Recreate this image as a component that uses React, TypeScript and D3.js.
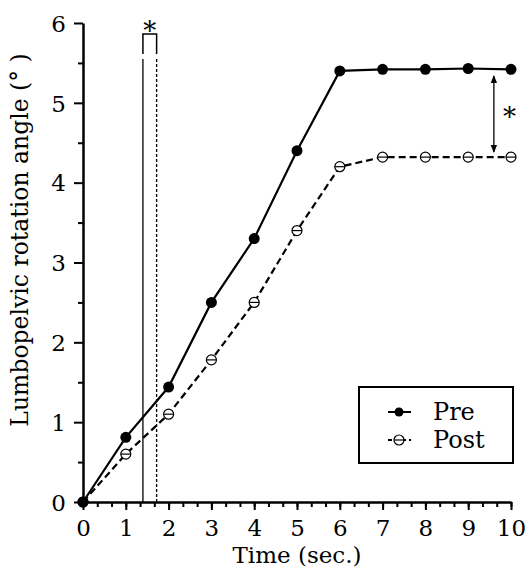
import React, { useRef, useEffect } from "react";
import * as d3 from "d3";

const times = [0, 1, 2, 3, 4, 5, 6, 7, 8, 9, 10];
const preValues = [0, 0.81, 1.44, 2.5, 3.3, 4.4, 5.4, 5.42, 5.42, 5.43, 5.42];
const postValues = [0, 0.6, 1.1, 1.78, 2.5, 3.4, 4.2, 4.32, 4.32, 4.32, 4.32];
const yTicks = [0, 1, 2, 3, 4, 5, 6];
const xTicks = [0, 1, 2, 3, 4, 5, 6, 7, 8, 9, 10];
const legendLabels = ["Pre", "Post"];
// time markers of the significant interval and the gap arrow position
const intervalStart = 1.4;
const intervalEnd = 1.72;
const arrowTime = 9.6;

const FONT = "'DejaVu Serif', serif";

export default function App() {
    const ref = useRef<SVGSVGElement>(null);

    useEffect(() => {
        const width = 531;
        const height = 568;

        const svg = d3.select(ref.current);
        svg.selectAll("*").remove();
        svg.attr("width", width).attr("height", height);

        const x = d3.scaleLinear().domain([0, 10]).range([83, 511]);
        const y = d3.scaleLinear().domain([0, 6]).range([502, 23]);

        // minor ticks
        svg.append("g")
            .attr("transform", `translate(0,${y(0)})`)
            .call(d3.axisBottom(x).tickValues(d3.range(0, 10.01, 1 / 3)).tickSize(5).tickFormat(() => ""))
            .call(g => g.select(".domain").remove())
            .call(g => g.selectAll("line").attr("stroke-width", 2));
        svg.append("g")
            .attr("transform", `translate(${x(0)},0)`)
            .call(d3.axisLeft(y).tickValues(d3.range(0.5, 6, 1)).tickSize(5).tickFormat(() => ""))
            .call(g => g.select(".domain").remove())
            .call(g => g.selectAll("line").attr("stroke-width", 2));

        // major axes
        const xAxis = svg.append("g")
            .attr("transform", `translate(0,${y(0)})`)
            .call(d3.axisBottom(x).tickValues(xTicks).tickSize(8).tickSizeOuter(0).tickPadding(9).tickFormat(d3.format("d")));
        const yAxis = svg.append("g")
            .attr("transform", `translate(${x(0)},0)`)
            .call(d3.axisLeft(y).tickValues(yTicks).tickSize(9).tickSizeOuter(0).tickPadding(8).tickFormat(d3.format("d")));
        [xAxis, yAxis].forEach(g => {
            g.attr("font-family", FONT).attr("font-size", 23);
            g.select(".domain").attr("stroke-width", 2.5);
            g.selectAll("line").attr("stroke-width", 2);
            g.selectAll("text").attr("fill", "#000");
        });
        xAxis.selectAll("text").attr("dy", "0.72em");
        yAxis.selectAll("text").attr("dy", "0.36em");

        // significant interval lines with bracket
        svg.append("line")
            .attr("x1", x(intervalStart)).attr("x2", x(intervalStart))
            .attr("y1", y(0)).attr("y2", 59)
            .attr("stroke", "#000").attr("stroke-width", 1.3);
        svg.append("line")
            .attr("x1", x(intervalEnd)).attr("x2", x(intervalEnd))
            .attr("y1", y(0)).attr("y2", 59)
            .attr("stroke", "#000").attr("stroke-width", 1.3)
            .attr("stroke-dasharray", "3,2");
        svg.append("path")
            .attr("d", `M${x(intervalStart)},54 V34 H${x(intervalEnd)} V54`)
            .attr("fill", "none").attr("stroke", "#000").attr("stroke-width", 1.5);
        svg.append("text")
            .attr("x", (x(intervalStart) + x(intervalEnd)) / 2).attr("y", 40)
            .attr("text-anchor", "middle").attr("font-family", FONT).attr("font-size", 26)
            .text("*");

        // lines
        const line = d3.line<number>().x((_, i) => x(times[i])).y(d => y(d));
        svg.append("path").datum(postValues)
            .attr("d", line).attr("fill", "none").attr("stroke", "#000")
            .attr("stroke-width", 2.2).attr("stroke-dasharray", "7,4");
        svg.append("path").datum(preValues)
            .attr("d", line).attr("fill", "none").attr("stroke", "#000")
            .attr("stroke-width", 2.2);

        const drawPost = (g: any, cx: number, cy: number) => {
            g.append("circle").attr("cx", cx).attr("cy", cy).attr("r", 5)
                .attr("fill", "#fff").attr("stroke", "#000").attr("stroke-width", 1.2);
            g.append("line").attr("x1", cx - 5).attr("x2", cx + 5).attr("y1", cy).attr("y2", cy)
                .attr("stroke", "#000").attr("stroke-width", 1.2);
        };
        const marks = svg.append("g");
        postValues.forEach((v, i) => drawPost(marks, x(times[i]), y(v)));
        marks.selectAll("circle.pre").data(preValues).enter().append("circle")
            .attr("class", "pre")
            .attr("cx", (_, i) => x(times[i])).attr("cy", d => y(d)).attr("r", 5.5)
            .attr("fill", "#000");

        // gap arrow
        const defs = svg.append("defs");
        defs.append("marker").attr("id", "ah").attr("viewBox", "0 0 10 10")
            .attr("refX", 9).attr("refY", 5).attr("markerWidth", 8).attr("markerHeight", 8)
            .attr("orient", "auto-start-reverse").attr("markerUnits", "userSpaceOnUse")
            .append("path").attr("d", "M0,1 L10,5 L0,9 Z").attr("fill", "#000");
        svg.append("line")
            .attr("x1", x(arrowTime)).attr("x2", x(arrowTime))
            .attr("y1", y(5.4) + 5).attr("y2", y(4.32) - 5)
            .attr("stroke", "#000").attr("stroke-width", 1.3)
            .attr("marker-start", "url(#ah)").attr("marker-end", "url(#ah)");
        svg.append("text")
            .attr("x", x(arrowTime) + 9).attr("y", (y(5.4) + y(4.32)) / 2 + 12)
            .attr("font-family", FONT).attr("font-size", 26).text("*");

        // legend
        const lg = svg.append("g");
        lg.append("rect").attr("x", 359).attr("y", 387).attr("width", 154).attr("height", 76)
            .attr("fill", "#fff").attr("stroke", "#000").attr("stroke-width", 2);
        legendLabels.forEach((label, i) => {
            const cy = 412 + i * 28;
            lg.append("line").attr("x1", 388).attr("x2", 411).attr("y1", cy).attr("y2", cy)
                .attr("stroke", "#000").attr("stroke-width", 2)
                .attr("stroke-dasharray", i === 0 ? null : "4,3");
            if (i === 0) {
                lg.append("circle").attr("cx", 399).attr("cy", cy).attr("r", 4.5).attr("fill", "#000");
            } else {
                drawPost(lg, 399, cy);
            }
            lg.append("text").attr("x", 433).attr("y", cy + 8)
                .attr("font-family", FONT).attr("font-size", 24).text(label);
        });

        // axis titles
        svg.append("text")
            .attr("x", 297).attr("y", 563)
            .attr("text-anchor", "middle").attr("font-family", FONT).attr("font-size", 23)
            .text("Time (sec.)");
        svg.append("text")
            .attr("transform", `translate(28,240) rotate(-90)`)
            .attr("text-anchor", "middle").attr("font-family", FONT).attr("font-size", 23.5)
            .text("Lumbopelvic rotation angle (° )");
    }, []);

    return <svg ref={ref} style={{ position: "absolute", left: 0, top: 0, background: "#fff" }}></svg>;
}
